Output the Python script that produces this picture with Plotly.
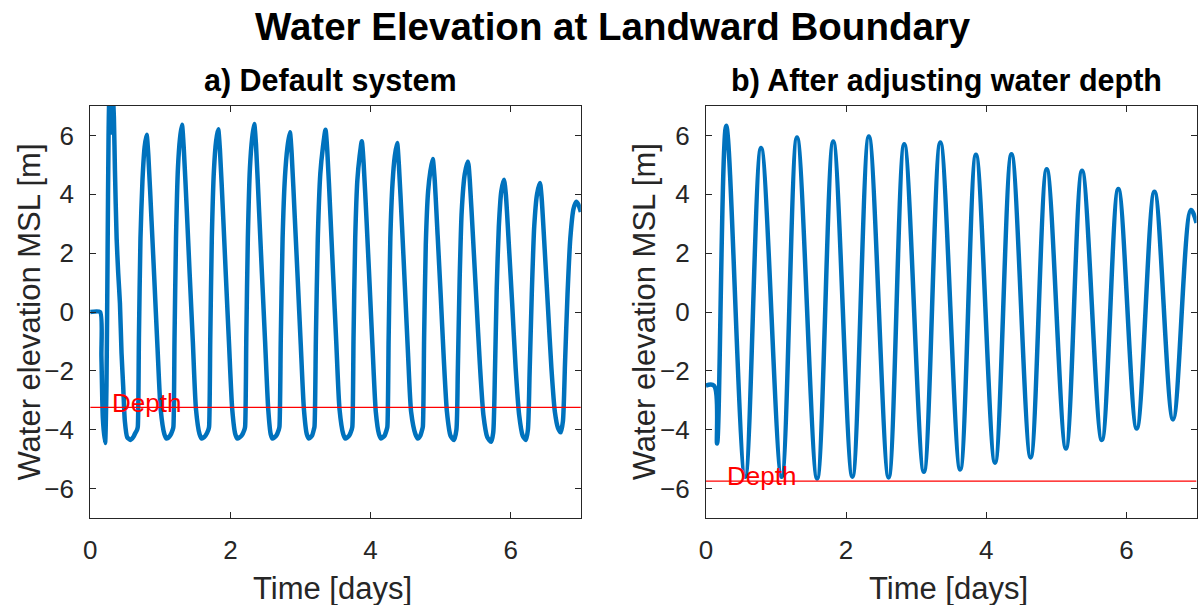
import plotly.graph_objects as go

# ---------------- data ----------------
left_time = [
    0.000, 0.141, 0.160, 0.180, 0.212, 0.232, 0.248, 0.262, 0.275, 0.292, 0.306, 0.322, 0.338,
    0.353, 0.377, 0.400, 0.424, 0.447, 0.471, 0.494, 0.527, 0.575, 0.615, 0.636, 0.669,
    0.679, 0.695, 0.717, 0.746, 0.776, 0.805,
    0.830, 0.875, 0.915, 0.960, 1.005, 1.058, 1.088, 1.140, 1.177,
    1.187, 1.203, 1.224, 1.252, 1.281, 1.309,
    1.334, 1.379, 1.419, 1.464, 1.509, 1.560, 1.590, 1.645, 1.686,
    1.696, 1.713, 1.735, 1.765, 1.796, 1.826,
    1.851, 1.896, 1.936, 1.981, 2.026, 2.070, 2.100, 2.160, 2.200,
    2.210, 2.227, 2.249, 2.279, 2.310, 2.340,
    2.365, 2.410, 2.450, 2.495, 2.540, 2.575, 2.600, 2.655, 2.690,
    2.700, 2.719, 2.745, 2.779, 2.814, 2.849,
    2.874, 2.919, 2.959, 3.004, 3.049, 3.090, 3.120, 3.165, 3.190,
    3.200, 3.220, 3.247, 3.283, 3.320, 3.357,
    3.382, 3.427, 3.467, 3.512, 3.557, 3.610, 3.640, 3.695, 3.730,
    3.740, 3.757, 3.781, 3.812, 3.844, 3.875,
    3.900, 3.945, 3.985, 4.030, 4.075, 4.120, 4.150, 4.200, 4.230,
    4.240, 4.258, 4.282, 4.314, 4.346, 4.379,
    4.404, 4.449, 4.489, 4.534, 4.579, 4.640, 4.675, 4.710, 4.736,
    4.746, 4.764, 4.788, 4.821, 4.854, 4.887,
    4.912, 4.957, 5.000, 5.045, 5.090, 5.140, 5.190,
    5.225, 5.245, 5.270, 5.300, 5.345, 5.390,
    5.415, 5.460, 5.510, 5.560, 5.610, 5.665, 5.720,
    5.750, 5.775, 5.800, 5.830, 5.865, 5.904,
    5.930, 5.975, 6.020, 6.070, 6.120, 6.170, 6.215,
    6.245, 6.270, 6.300, 6.335, 6.375, 6.417,
    6.440, 6.485, 6.530, 6.580, 6.630, 6.675, 6.713,
    6.745, 6.775, 6.810, 6.850, 6.895, 6.935,
    6.965, 7.000,
]
left_elev = [
    0.00, 0.00, -1.50, -3.60, -4.45, -2.50, 2.00, 6.00, 7.40, 7.60, 6.10, 7.40, 6.60,
    4.80, 2.50, 1.30, 0.30, -1.40, -2.55, -3.70, -4.25, -4.35, -4.25, -4.15, -4.00,
    -3.90, -0.90, 2.50, 4.50, 5.60, 6.02,
    5.30, 3.10, 1.10, -1.20, -3.30, -4.15, -4.30, -4.20, -4.00,
    -3.90, -0.90, 2.50, 4.90, 5.90, 6.36,
    5.60, 3.40, 1.30, -1.00, -3.30, -4.15, -4.30, -4.20, -4.00,
    -3.90, -0.90, 2.50, 4.80, 5.80, 6.21,
    5.50, 3.30, 1.20, -1.10, -3.30, -4.15, -4.30, -4.20, -4.00,
    -3.90, -0.90, 2.50, 4.90, 5.90, 6.39,
    5.70, 3.40, 1.30, -1.00, -3.30, -4.15, -4.30, -4.20, -4.00,
    -3.90, -0.90, 2.50, 4.60, 5.60, 6.11,
    5.40, 3.20, 1.20, -1.10, -3.30, -4.15, -4.30, -4.20, -4.00,
    -3.90, -0.90, 2.50, 4.70, 5.60, 6.19,
    5.50, 3.30, 1.20, -1.10, -3.30, -4.15, -4.30, -4.20, -4.00,
    -3.90, -0.90, 2.50, 4.50, 5.30, 5.80,
    5.10, 3.00, 1.00, -1.30, -3.40, -4.15, -4.30, -4.20, -4.00,
    -3.90, -0.90, 2.50, 4.40, 5.30, 5.74,
    5.00, 2.90, 0.90, -1.40, -3.40, -4.15, -4.30, -4.20, -4.00,
    -3.90, -0.90, 2.30, 4.10, 4.80, 5.20,
    4.60, 2.60, 0.60, -1.60, -3.40, -4.20, -4.35,
    -4.00, -2.00, 1.00, 3.40, 4.70, 5.11,
    4.50, 2.60, 0.40, -1.80, -3.50, -4.25, -4.41,
    -4.10, -2.00, 0.80, 2.90, 4.10, 4.49,
    4.00, 2.20, 0.30, -1.90, -3.50, -4.20, -4.35,
    -4.00, -2.00, 0.60, 2.90, 4.00, 4.38,
    3.90, 2.10, 0.20, -1.90, -3.40, -3.95, -4.09,
    -3.70, -1.70, 0.60, 2.50, 3.50, 3.75,
    3.65, 3.40,
]

right_time = [
    0.000, 0.115, 0.160, 0.290, 0.560, 0.787, 1.080, 1.300, 1.587, 1.817,
    2.090, 2.325, 2.607, 2.830, 3.110, 3.345, 3.628, 3.853, 4.125, 4.360,
    4.633, 4.863, 5.137, 5.367, 5.649, 5.884, 6.147, 6.400, 6.665, 6.920, 7.000,
]
right_elev = [
    -2.50, -2.50, -4.47, 6.33, -5.60, 5.57, -5.60, 5.93, -5.66, 5.79,
    -5.60, 5.96, -5.62, 5.70, -5.43, 5.76, -5.35, 5.34, -5.12, 5.36,
    -4.94, 4.85, -4.64, 4.80, -4.35, 4.18, -3.96, 4.09, -3.65, 3.47, 3.03,
]

depth_left = -3.24
depth_right = -5.75

x_ticks = [0, 2, 4, 6]
y_ticks = [-6, -4, -2, 0, 2, 4, 6]

main_title = "Water Elevation at Landward Boundary"
sub_titles = ["a) Default system", "b) After adjusting water depth"]
x_title = "Time [days]"
y_title = "Water elevation MSL [m]"
depth_label = "Depth"

# ---------------- styling ----------------
W, H = 1198, 605
FONT = "Liberation Sans, Arial, Helvetica, sans-serif"
AXC = "#262626"
BLUE = "#0072BD"

L_x0, L_x1 = 83.7, 577.2
R_x0, R_x1 = 703.0, 1196.5
Y_top, Y_bot = 106.0, 518.0

def fx(px):
    return px / W

def fy(py):
    return 1 - py / H

fig = go.Figure()

fig.add_trace(go.Scatter(x=left_time, y=left_elev, mode="lines",
                         line=dict(color=BLUE, width=4.5, shape="spline", smoothing=0.6),
                         xaxis="x", yaxis="y", showlegend=False))
fig.add_trace(go.Scatter(x=[0, 7], y=[depth_left, depth_left], mode="lines",
                         line=dict(color="#FF0000", width=1.3),
                         xaxis="x", yaxis="y", showlegend=False))
fig.add_trace(go.Scatter(x=right_time, y=right_elev, mode="lines",
                         line=dict(color=BLUE, width=4.5, shape="spline", smoothing=1.0),
                         xaxis="x2", yaxis="y2", showlegend=False))
fig.add_trace(go.Scatter(x=[0, 7], y=[depth_right, depth_right], mode="lines",
                         line=dict(color="#FF0000", width=1.3),
                         xaxis="x2", yaxis="y2", showlegend=False))

axis_common = dict(
    showline=True, linecolor=AXC, linewidth=1, mirror="ticks",
    ticks="inside", ticklen=6, tickcolor=AXC, tickwidth=1,
    showgrid=False, zeroline=False,
    tickfont=dict(family=FONT, size=26, color=AXC),
)

fig.update_layout(
    width=W, height=H,
    margin=dict(l=0, r=0, t=0, b=0),
    paper_bgcolor="white", plot_bgcolor="white",
    xaxis=dict(domain=[fx(L_x0), fx(L_x1)], range=[0, 7], tickvals=x_ticks,
               anchor="y", ticklabelstandoff=9, **axis_common),
    yaxis=dict(domain=[fy(Y_bot), fy(Y_top)], range=[-7, 7], tickvals=y_ticks,
               anchor="x", ticklabelstandoff=10, **axis_common),
    xaxis2=dict(domain=[fx(R_x0), fx(R_x1)], range=[0, 7], tickvals=x_ticks,
                anchor="y2", ticklabelstandoff=9, **axis_common),
    yaxis2=dict(domain=[fy(Y_bot), fy(Y_top)], range=[-7, 7], tickvals=y_ticks,
                anchor="x2", ticklabelstandoff=10, **axis_common),
)

ann = []
ann.append(dict(text=f"<b>{main_title}</b>", xref="paper", yref="paper",
                x=fx(610), y=fy(26), xanchor="center", yanchor="middle", showarrow=False,
                font=dict(family=FONT, size=38.5, color="black")))
for i, (x0, x1) in enumerate([(L_x0, L_x1), (R_x0, R_x1)]):
    cx = fx((x0 + x1) / 2)
    ann.append(dict(text=f"<b>{sub_titles[i]}</b>", xref="paper", yref="paper",
                    x=cx - fx(5), y=fy(80), xanchor="center", yanchor="middle", showarrow=False,
                    font=dict(family=FONT, size=30.5, color="black")))
    ann.append(dict(text=x_title, xref="paper", yref="paper",
                    x=cx - fx(3), y=fy(588), xanchor="center", yanchor="middle", showarrow=False,
                    font=dict(family=FONT, size=31, color=AXC)))
    ann.append(dict(text=y_title, xref="paper", yref="paper", textangle=-90,
                    x=fx(x0 - 62), y=fy((Y_top + Y_bot) / 2), xanchor="center", yanchor="middle",
                    showarrow=False, font=dict(family=FONT, size=31, color=AXC)))

ann.append(dict(text=depth_label, xref="x", yref="y", x=0.28, y=depth_left,
                xanchor="left", yanchor="middle", yshift=4, showarrow=False,
                font=dict(family=FONT, size=26, color="#FF0000")))
ann.append(dict(text=depth_label, xref="x2", yref="y2", x=0.27, y=depth_right,
                xanchor="left", yanchor="middle", yshift=5, showarrow=False,
                font=dict(family=FONT, size=26, color="#FF0000")))

fig.update_layout(annotations=ann)

fig.write_html("out.html")
